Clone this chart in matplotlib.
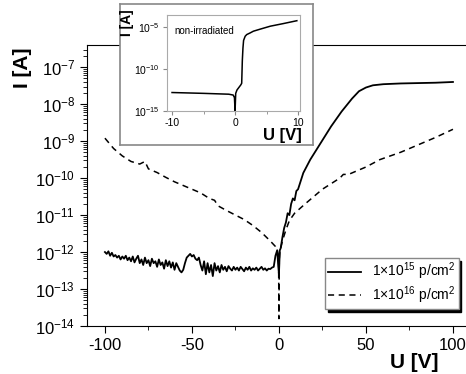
import numpy as np
import matplotlib.pyplot as plt
from matplotlib.ticker import FixedLocator, LogLocator, NullFormatter

plt.rcParams['font.family'] = ['Liberation Sans', 'DejaVu Sans']
plt.rcParams['mathtext.fontset'] = 'custom'
plt.rcParams['mathtext.rm'] = 'Liberation Sans'
plt.rcParams['mathtext.it'] = 'Liberation Sans:italic'
plt.rcParams['mathtext.bf'] = 'Liberation Sans:bold'
plt.rcParams['axes.unicode_minus'] = False

# 1e15 p/cm2, reverse side (U = -100 ... -1 V), log10(I)
u_15_neg = np.arange(-100, 0, 1)
logi_15_neg = [-12.00, -12.05, -11.98, -12.10, -12.02, -12.12, -12.08, -12.15, -12.10, -12.20,
               -12.12, -12.18, -12.10, -12.22, -12.15, -12.25, -12.12, -12.28, -12.18, -12.10,
               -12.30, -12.20, -12.35, -12.15, -12.30, -12.22, -12.38, -12.18, -12.30, -12.25,
               -12.40, -12.20, -12.35, -12.28, -12.45, -12.22, -12.38, -12.25, -12.42, -12.28,
               -12.48, -12.30, -12.40, -12.50, -12.55, -12.48, -12.30, -12.15, -12.10, -12.05,
               -12.12, -12.08, -12.18, -12.22, -12.15, -12.35, -12.50, -12.25, -12.60, -12.30,
               -12.55, -12.35, -12.65, -12.30, -12.50, -12.38, -12.55, -12.35, -12.48, -12.40,
               -12.52, -12.38, -12.45, -12.50, -12.40, -12.48, -12.42, -12.50, -12.40, -12.46,
               -12.52, -12.42, -12.48, -12.40, -12.50, -12.44, -12.48, -12.42, -12.50, -12.45,
               -12.40, -12.48, -12.44, -12.50, -12.45, -12.46, -12.42, -12.40, -12.10, -11.95]
# 1e15 p/cm2, forward side
u_15_pos = [-0.5, 0, 0.5, 1, 2, 3, 4, 5, 6, 7, 8, 9, 10, 11, 12, 13, 14, 18, 24, 30,
            36, 42, 46, 50, 54, 60, 70, 80, 90, 100]
logi_15_pos = [-12.3, -12.6, -11.95, -11.9, -11.6, -11.35, -11.2, -10.95, -11.0, -10.7,
               -10.55, -10.6, -10.35, -10.3, -10.15, -10.0, -9.86, -9.5, -9.05, -8.6,
               -8.2, -7.85, -7.65, -7.55, -7.49, -7.46, -7.44, -7.43, -7.42, -7.40]

# 1e16 p/cm2
u_16 = [-100, -95, -90, -85, -80, -77, -75, -70, -65, -60, -55, -50, -45, -40, -37, -35,
        -30, -25, -20, -15, -10, -5, -2, -1, -0.2, 0, 0.2, 0.5, 2, 4, 6, 9, 15, 20, 25,
        30, 35, 37, 40, 50, 58, 70, 80, 90, 100]
logi_16 = [-8.92, -9.2, -9.4, -9.55, -9.62, -9.55, -9.75, -9.85, -9.98, -10.1, -10.2, -10.3,
           -10.4, -10.55, -10.6, -10.75, -10.88, -11.0, -11.12, -11.28, -11.47, -11.7, -11.85,
           -11.95, -12.1, -13.8, -12.2, -12.0, -11.7, -11.4, -11.15, -10.95, -10.7, -10.5,
           -10.3, -10.15, -10.0, -9.9, -9.9, -9.7, -9.5, -9.3, -9.1, -8.9, -8.68]

# non-irradiated (inset)
u_0 = [-10, -5, -1, -0.3, -0.1, 0, 0.1, 0.3, 0.6, 0.9, 1.05, 1.15, 1.25, 1.35, 1.6,
       1.85, 2.4, 2.9, 4, 5.6, 7.6, 9.8]
logi_0 = [-12.8, -12.9, -13.0, -13.1, -13.4, -15.0, -12.9, -12.5, -12.2, -11.9, -11.7,
          -9.0, -7.5, -6.6, -6.1, -5.9, -5.7, -5.5, -5.25, -4.9, -4.6, -4.25]

fig = plt.figure(figsize=(4.66, 3.74), dpi=100)
W, H = 466, 374

ax = fig.add_axes([87 / W, 1 - 326 / H, 379 / W, 281 / H])
u15 = np.concatenate([u_15_neg, u_15_pos])
i15 = 10 ** np.concatenate([logi_15_neg, logi_15_pos])
ax.plot(u15, i15, color='k', lw=1.3, label=r'1$\times$10$^{15}$ p/cm$^2$')
ax.plot(u_16, 10 ** np.array(logi_16), color='k', lw=1.1, ls=(0, (4, 3)),
        label=r'1$\times$10$^{16}$ p/cm$^2$')
ax.set_yscale('log')
ax.set_xlim(-110.3, 107.5)
ax.set_ylim(1e-14, 10 ** -6.4)
ax.spines['right'].set_visible(False)
ax.xaxis.set_major_locator(FixedLocator([-100, -50, 0, 50, 100]))
ax.xaxis.set_minor_locator(FixedLocator([-75, -25, 25, 75]))
ax.yaxis.set_major_locator(LogLocator(base=10, numticks=20))
ax.yaxis.set_minor_locator(LogLocator(base=10, subs=np.arange(2, 10), numticks=20))
ax.yaxis.set_minor_formatter(NullFormatter())
ax.tick_params(which='both', direction='out', labelsize=12, top=False, right=False)
ax.tick_params(which='major', length=5)
ax.tick_params(which='minor', length=3)

leg = ax.legend(loc='upper left', bbox_to_anchor=((325 - 87) / 379, (326 - 258) / 281),
                fontsize=10, handlelength=2.4, fancybox=False, borderaxespad=0,
                labelspacing=0.15, borderpad=0.2, shadow={'color': 'k', 'alpha': 1})
leg.get_frame().set_edgecolor('#888888')
leg.get_frame().set_linewidth(1)

fig.text(23 / W, 1 - 68 / H, 'I [A]', rotation=90, ha='center', va='center',
         fontsize=15, fontweight='bold')
fig.text(414 / W, 1 - 362 / H, 'U [V]', ha='center', va='center',
         fontsize=15, fontweight='bold')

# inset frame
frame = fig.add_axes([120 / W, 1 - 145 / H, 193 / W, 141 / H])
frame.set_xticks([])
frame.set_yticks([])
for s in frame.spines.values():
    s.set_edgecolor('#888888')
    s.set_linewidth(1.2)

ins = fig.add_axes([167 / W, 1 - 111 / H, 133 / W, 96 / H])
ins.plot(u_0, 10 ** np.array(logi_0), color='k', lw=1.1)
ins.set_yscale('log')
ins.set_xlim(-10.8, 10.3)
ins.set_ylim(1e-15, 10 ** -3.57)
ins.set_xticks([-10, 0, 10])
ins.xaxis.set_minor_locator(FixedLocator([-5, 5]))
ins.set_yticks([1e-15, 1e-10, 1e-5])
ins.yaxis.set_minor_locator(FixedLocator([]))
ins.tick_params(which='both', direction='out', labelsize=7.5, length=3, color='#888888', pad=2)
ins.tick_params(which='minor', length=2)
for s in ins.spines.values():
    s.set_edgecolor('#aaaaaa')
ins.text(-9.7, 10 ** -5.45, 'non-irradiated', fontsize=7, va='center')

fig.text(127 / W, 1 - 23 / H, 'I [A]', rotation=90, ha='center', va='center',
         fontsize=10, fontweight='bold')
fig.text(282 / W, 1 - 140 / H, 'U [V]', ha='center', va='baseline',
         fontsize=12, fontweight='bold')

fig.savefig('out.png', dpi=100)
